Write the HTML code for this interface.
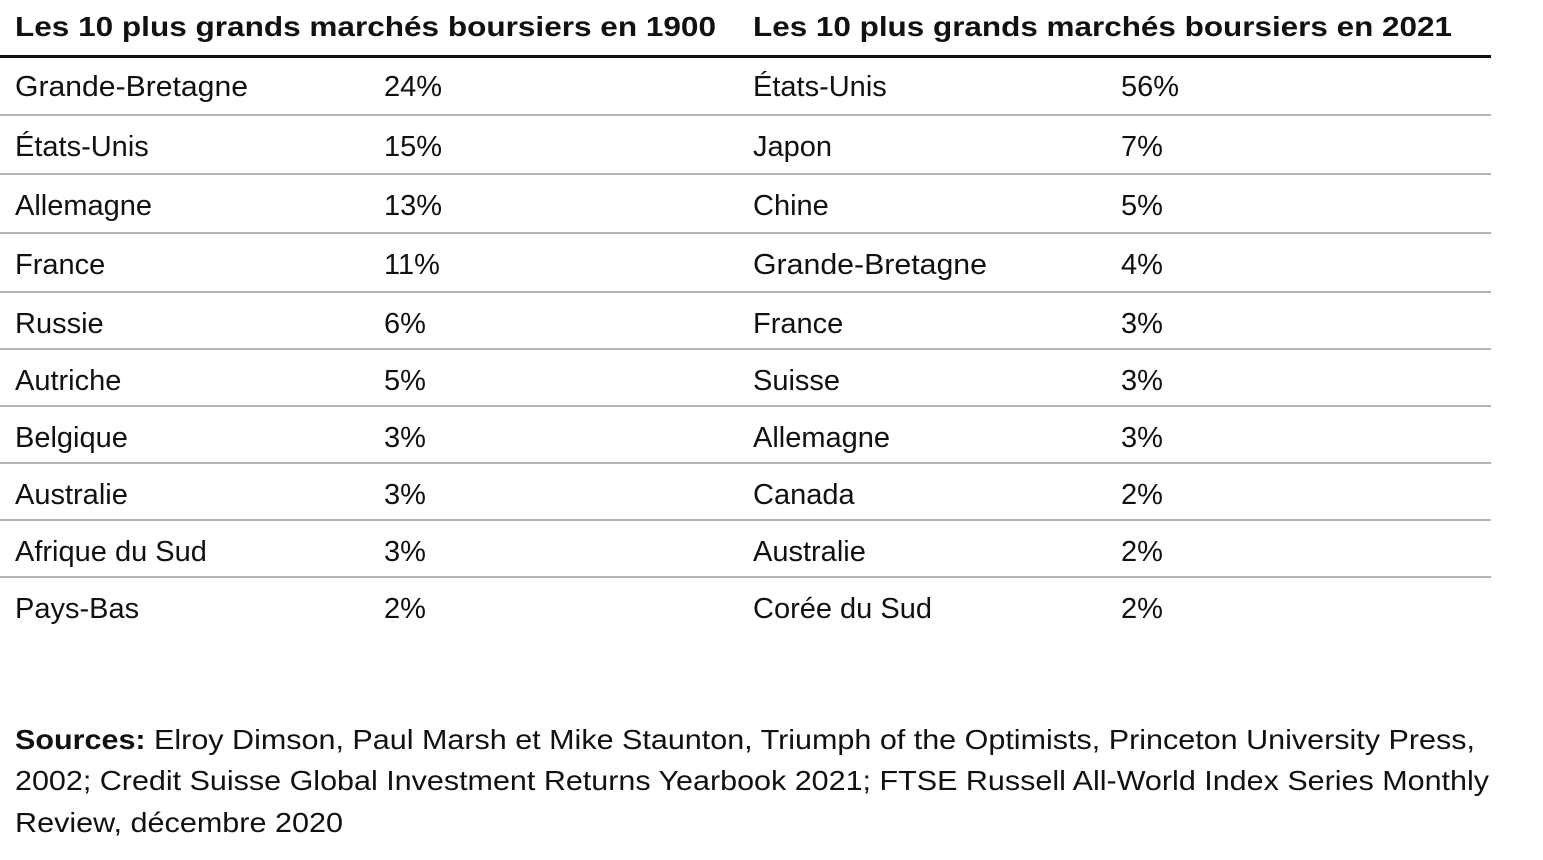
<!DOCTYPE html>
<html><head><meta charset="utf-8"><style>
html,body{margin:0;padding:0;background:#fff;width:1543px;height:860px;overflow:hidden}
text{font-family:"Liberation Sans",sans-serif;fill:#111}
</style></head><body>
<svg width="1543" height="860" xmlns="http://www.w3.org/2000/svg">
<text x="15" y="36" font-size="28" font-weight="bold" textLength="701" lengthAdjust="spacingAndGlyphs">Les 10 plus grands marchés boursiers en 1900</text>
<text x="753" y="36" font-size="28" font-weight="bold" textLength="699" lengthAdjust="spacingAndGlyphs">Les 10 plus grands marchés boursiers en 2021</text>
<rect x="0" y="55" width="1491" height="3" fill="#111"/>
<g fill="#b4b4b4">
<rect x="0" y="114" width="1491" height="2"/>
<rect x="0" y="173" width="1491" height="2"/>
<rect x="0" y="232" width="1491" height="2"/>
<rect x="0" y="291" width="1491" height="2"/>
<rect x="0" y="348" width="1491" height="2"/>
<rect x="0" y="405" width="1491" height="2"/>
<rect x="0" y="462" width="1491" height="2"/>
<rect x="0" y="519" width="1491" height="2"/>
<rect x="0" y="576" width="1491" height="2"/>
</g>
<g font-size="29">
<text x="15" y="96" textLength="233" lengthAdjust="spacingAndGlyphs">Grande-Bretagne</text><text x="384" y="96">24%</text>
<text x="15" y="156">États-Unis</text><text x="384" y="156">15%</text>
<text x="15" y="215">Allemagne</text><text x="384" y="215">13%</text>
<text x="15" y="274">France</text><text x="384" y="274">11%</text>
<text x="15" y="333">Russie</text><text x="384" y="333">6%</text>
<text x="15" y="390">Autriche</text><text x="384" y="390">5%</text>
<text x="15" y="447">Belgique</text><text x="384" y="447">3%</text>
<text x="15" y="504">Australie</text><text x="384" y="504">3%</text>
<text x="15" y="561">Afrique du Sud</text><text x="384" y="561">3%</text>
<text x="15" y="618">Pays-Bas</text><text x="384" y="618">2%</text>

<text x="753" y="96">États-Unis</text><text x="1121" y="96">56%</text>
<text x="753" y="156">Japon</text><text x="1121" y="156">7%</text>
<text x="753" y="215">Chine</text><text x="1121" y="215">5%</text>
<text x="753" y="274" textLength="234" lengthAdjust="spacingAndGlyphs">Grande-Bretagne</text><text x="1121" y="274">4%</text>
<text x="753" y="333">France</text><text x="1121" y="333">3%</text>
<text x="753" y="390">Suisse</text><text x="1121" y="390">3%</text>
<text x="753" y="447">Allemagne</text><text x="1121" y="447">3%</text>
<text x="753" y="504">Canada</text><text x="1121" y="504">2%</text>
<text x="753" y="561">Australie</text><text x="1121" y="561">2%</text>
<text x="753" y="618">Corée du Sud</text><text x="1121" y="618">2%</text>
</g>
<g font-size="28">
<text x="15" y="749" textLength="1460" lengthAdjust="spacingAndGlyphs"><tspan font-weight="bold">Sources:</tspan> Elroy Dimson, Paul Marsh et Mike Staunton, Triumph of the Optimists, Princeton University Press,</text>
<text x="15" y="790" textLength="1474" lengthAdjust="spacingAndGlyphs">2002; Credit Suisse Global Investment Returns Yearbook 2021; FTSE Russell All-World Index Series Monthly</text>
<text x="15" y="832" textLength="328" lengthAdjust="spacingAndGlyphs">Review, décembre 2020</text>
</g>
</svg>
</body></html>
